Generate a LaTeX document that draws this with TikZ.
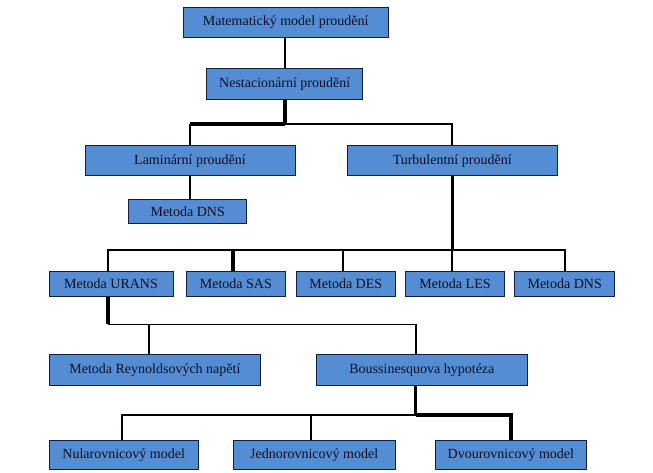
\documentclass[tikz,border=0pt]{standalone}
\usepackage{fontspec}
\setmainfont{Liberation Serif}
\newfontfamily\boxfont{Liberation Serif}
\definecolor{boxblue}{RGB}{84,141,212}
\definecolor{boxline}{RGB}{20,30,60}
\definecolor{txt}{RGB}{15,15,35}
\begin{document}
\begin{tikzpicture}[x=1pt,y=1pt,
  box/.style={draw=boxline,line width=1pt,fill=boxblue,text=txt,inner sep=0pt,
    font=\boxfont\fontsize{14}{16}\selectfont,anchor=center},
  thinline/.style={line width=1.6pt,black},
  thickline/.style={line width=3.2pt,black}]
\useasboundingbox (0,0) rectangle (653,472);
% nodes (y measured from top: y_tikz = 472 - y)
\node[box,minimum width=204.7pt,minimum height=29.7pt] (m) at (285.7,449.8) {Matematický model proudění};
\node[box,minimum width=156.5pt,minimum height=31pt] (n) at (284.7,388.2) {Nestacionární proudění};
\node[box,minimum width=210pt,minimum height=30pt] (lam) at (190,311) {Laminární proudění};
\node[box,minimum width=209.7pt,minimum height=30pt] (tur) at (452.2,311) {Turbulentní proudění};
\node[box,minimum width=117.6pt,minimum height=24pt] (dnsa) at (187.7,260.7) {Metoda DNS};
\node[box,minimum width=124pt,minimum height=24.3pt] (urans) at (111,188.1) {Metoda URANS};
\node[box,minimum width=99.2pt,minimum height=24.3pt] (sas) at (235.9,188.1) {Metoda SAS};
\node[box,minimum width=99.6pt,minimum height=24.3pt] (des) at (345.8,188.1) {Metoda DES};
\node[box,minimum width=98.8pt,minimum height=24.3pt] (les) at (455,188.1) {Metoda LES};
\node[box,minimum width=99.6pt,minimum height=24.3pt] (dnsb) at (564.7,188.1) {Metoda DNS};
\node[box,minimum width=211.8pt,minimum height=31.4pt] (rey) at (154.9,102) {Metoda Reynoldsových napětí};
\node[box,minimum width=211.8pt,minimum height=31.4pt] (bou) at (421.9,102) {Boussinesquova hypotéza};
\node[box,minimum width=149.4pt,minimum height=29.3pt] (nul) at (123.7,17.3) {Nularovnicový model};
\node[box,minimum width=161.9pt,minimum height=29.3pt] (jed) at (314.2,17.3) {Jednorovnicový model};
\node[box,minimum width=150.3pt,minimum height=29.3pt] (dvo) at (510.9,17.3) {Dvourovnicový model};
% junction coordinates
\coordinate (j1) at (285,348);
\coordinate (j2) at (452.2,222);
\coordinate (j3) at (108,147.7);
\coordinate (j4) at (415.6,57);
% connectors
\draw[thinline] (m.south -| j1) -- (n.north -| j1);
\draw[thickline] (n.south -| j1) -- (j1);
\draw[thickline] (j1) -- (j1 -| lam.north);
\draw[thinline] (j1 -| lam.north) -- (lam.north);
\draw[thinline] (j1) -| (tur.north);
\draw[thinline] (lam.south) -- (lam.south |- dnsa.north);
\draw[thickline] (tur.south) -- (j2);
\draw[thinline] ([xshift=-3pt]urans.north) |- (j2 -| dnsb.north) -- (dnsb.north);
\draw[thickline] ([xshift=-3pt]sas.north) -- ([xshift=-3pt]sas.north |- j2);
\draw[thinline] ([xshift=-3pt]des.north) -- ([xshift=-3pt]des.north |- j2);
\draw[thinline] (les.north -| j2) -- (j2);
\draw[thickline] (urans.south -| j3) -- (j3);
\draw[thinline] (j3) -| ([xshift=-6pt]rey.north);
\draw[thinline] (j3) -| ([xshift=-6pt]bou.north);
\draw[thickline] (bou.south -| j4) -- (j4);
\draw[thinline] (j4) -| ([xshift=-2pt]nul.north);
\draw[thinline] ([xshift=-3.5pt]jed.north) -- ([xshift=-3.5pt]jed.north |- j4);
\draw[thickline] (j4) -| (dvo.north);
\end{tikzpicture}
\end{document}
